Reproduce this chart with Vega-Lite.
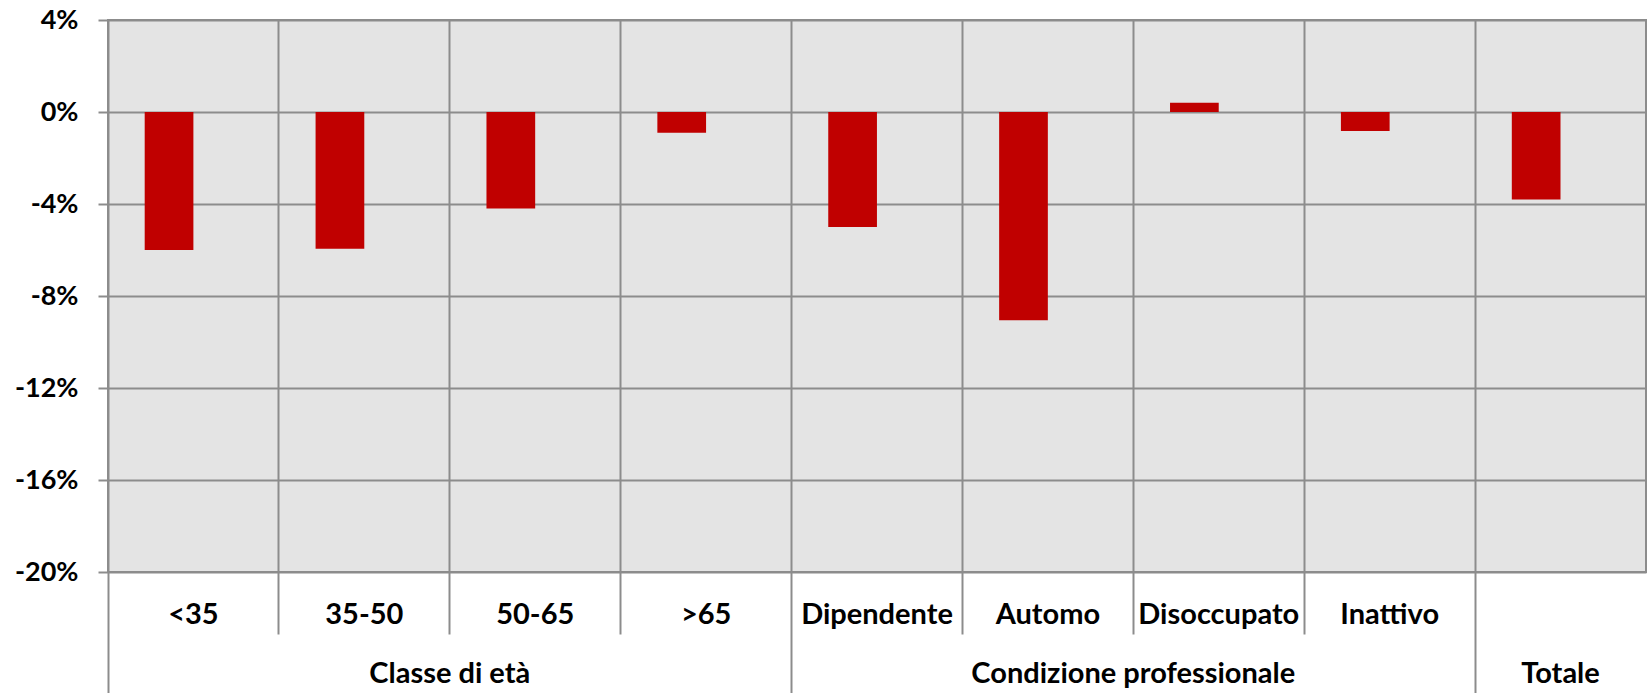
{
  "$schema": "https://vega.github.io/schema/vega-lite/v6.json",
  "width": 1538,
  "height": 552,
  "autosize": {"type": "none"},
  "padding": {"left": 108, "top": 20, "right": 2, "bottom": 121},
  "background": "white",
  "config": {
    "view": {"fill": "#e4e4e4", "stroke": "#8c8c8c", "strokeWidth": 2},
    "axis": {"labelFont": "Lato", "labelFontWeight": "bold", "labelFontSize": 27, "labelColor": "#000000", "labelOverlap": false, "labelBound": false, "labelFlush": false, "labelLimit": 600}
  },
  "data": {
    "values": [
      {"categoria": "<35", "variazione": -6.0},
      {"categoria": "35-50", "variazione": -5.95},
      {"categoria": "50-65", "variazione": -4.2},
      {"categoria": ">65", "variazione": -0.9},
      {"categoria": "Dipendente", "variazione": -5.0},
      {"categoria": "Automo", "variazione": -9.05},
      {"categoria": "Disoccupato", "variazione": 0.4},
      {"categoria": "Inattivo", "variazione": -0.83},
      {"categoria": "Totale", "variazione": -3.8}
    ]
  },
  "resolve": {"axis": {"x": "independent"}},
  "layer": [
    {
      "mark": {"type": "bar", "color": "#c00000", "width": {"band": 0.285}, "xOffset": -24.4},
      "encoding": {
        "x": {
          "field": "categoria", "type": "nominal", "sort": null,
          "scale": {"paddingInner": 0, "paddingOuter": 0},
          "axis": {"title": null, "orient": "bottom", "ticks": false, "domain": false, "grid": false, "labelAngle": 0, "labelPadding": 28, "labelBaseline": "top", "labelFontSize": 29,
            "labelExpr": "datum.value == 'Totale' ? '' : datum.value"}
        },
        "y": {
          "field": "variazione", "type": "quantitative",
          "scale": {"domain": [-20, 4], "nice": false},
          "axis": {"title": null, "values": [-20, -16, -12, -8, -4, 0, 4], "labelExpr": "datum.value + '%'", "grid": true, "gridColor": "#8c8c8c", "gridWidth": 2, "tickColor": "#8c8c8c", "tickWidth": 2, "tickSize": 10, "labelPadding": 20, "domain": false}
        }
      }
    },
    {
      "mark": {"type": "tick", "opacity": 0},
      "encoding": {
        "x": {
          "field": "categoria", "type": "nominal", "sort": null,
          "axis": {
            "title": null, "orient": "bottom", "labels": false, "domain": false, "grid": true, "gridColor": "#8c8c8c", "gridWidth": 2,
            "bandPosition": 0, "ticks": true, "tickColor": "#8c8c8c", "tickWidth": 2,
            "tickSize": {"condition": {"test": "indexof(['<35','Dipendente','Totale'], datum.value) >= 0", "value": 121}, "value": 62}
          }
        }
      }
    },
    {
      "mark": {"type": "tick", "opacity": 0},
      "encoding": {
        "x": {
          "field": "categoria", "type": "nominal", "sort": null,
          "axis": {
            "title": null, "orient": "bottom", "values": ["35-50", "Automo", "Totale"],
            "labelExpr": "datum.value == '35-50' ? 'Classe di età' : datum.value == 'Automo' ? 'Condizione professionale' : 'Totale'",
            "labelOffset": {"condition": {"test": "datum.value == 'Totale'", "value": 0}, "value": 85.4},
            "ticks": false, "grid": false, "domain": false, "labelAngle": 0, "labelPadding": 87, "labelBaseline": "top", "labelFontSize": 29
          }
        }
      }
    }
  ]
}
